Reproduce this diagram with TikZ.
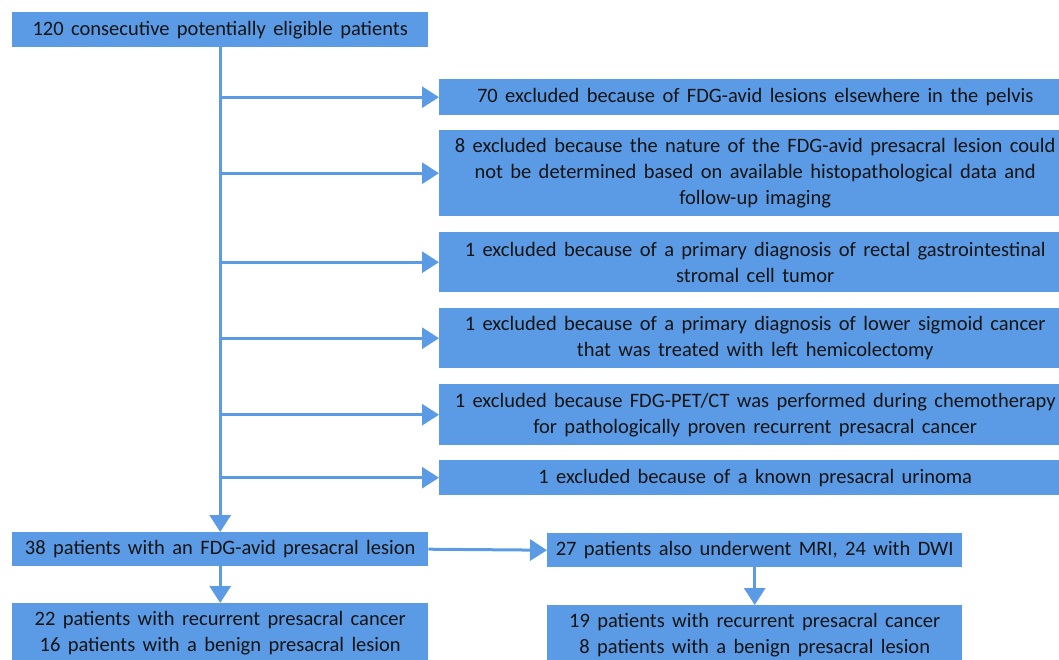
\documentclass[tikz,border=0pt]{standalone}
\usepackage{fontspec}
\setmainfont{Carlito}
\usetikzlibrary{arrows.meta}
\definecolor{boxblue}{RGB}{91,155,230}
\newcommand{\myboxfont}{\fontsize{20.5}{26}\selectfont}
\newcommand{\wsp}[1]{{\spaceskip=7.4pt\relax #1}}
\tikzset{
  box/.style={fill=boxblue, draw=none, inner sep=0pt, anchor=north west, align=center,
    font=\myboxfont, text=black!92, execute at begin node={\spaceskip=7.4pt\relax}},
  arr/.style={draw=boxblue, line width=3pt, -{Triangle[width=21pt,length=17pt]}},
  ln/.style={draw=boxblue, line width=3pt}
}
\begin{document}
\begin{tikzpicture}[x=1pt,y=-1pt]
\useasboundingbox (0,0) rectangle (1059,659);
\clip (0,0) rectangle (1059,659);
\node[box, minimum width=416pt, minimum height=35pt] (top) at (12,12) {120 consecutive potentially eligible patients};
\node[box, minimum width=632pt, minimum height=36pt] (b1) at (439,79) {70 excluded because of FDG-avid lesions elsewhere in the pelvis};
\node[box, minimum width=632pt, minimum height=86pt] (b2) at (439,130) {8 excluded because the nature of the FDG-avid presacral lesion could\\not be determined based on available histopathological data and\\follow-up imaging};
\node[box, minimum width=632pt, minimum height=60pt] (b3) at (439,232) {1 excluded because of a primary diagnosis of rectal gastrointestinal\\stromal cell tumor};
\node[box, minimum width=632pt, minimum height=60pt] (b4) at (439,308) {1 excluded because of a primary diagnosis of lower sigmoid cancer\\that was treated with left hemicolectomy};
\node[box, minimum width=632pt, minimum height=61pt] (b5) at (439,384) {1 excluded because FDG-PET/CT was performed during chemotherapy\\for pathologically proven recurrent presacral cancer};
\node[box, minimum width=632pt, minimum height=35pt] (b6) at (439,460) {1 excluded because of a known presacral urinoma};
\node[box, minimum width=416pt, minimum height=34pt] (m38) at (12,532) {38 patients with an FDG-avid presacral lesion};
\node[box, minimum width=416pt, minimum height=60pt] (r22) at (12,603) {22 patients with recurrent presacral cancer\\16 patients with a benign presacral lesion};
\node[box, minimum width=415pt, minimum height=34pt] (m27) at (547,533) {27 patients also underwent MRI, 24 with DWI};
\node[box, minimum width=415pt, minimum height=60pt] (r19) at (547,605) {19 patients with recurrent presacral cancer\\8 patients with a benign presacral lesion};
\draw[arr] (top.south) -- (m38.north);
\foreach \b in {b1,b2,b3,b4,b5,b6}{
  \draw[arr] (top.south |- \b.west) -- (\b.west);
}
\draw[arr] (m38.south) -- (r22.north);
\draw[arr] (m38.east) -- (m27.west);
\draw[arr] (m27.south) -- (r19.north);
\end{tikzpicture}
\end{document}
